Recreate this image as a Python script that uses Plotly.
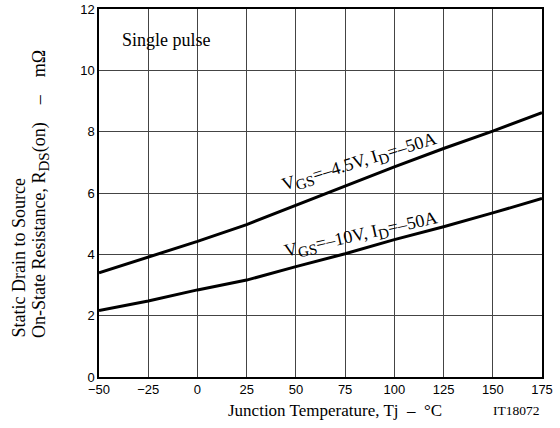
import plotly.graph_objects as go

temps = [-50, -25, 0, 25, 50, 75, 100, 125, 150, 175]
r_vgs45 = [3.4, 3.9, 4.42, 4.97, 5.6, 6.22, 6.85, 7.45, 8.02, 8.62]
r_vgs10 = [2.17, 2.48, 2.84, 3.16, 3.6, 4.02, 4.48, 4.9, 5.35, 5.82]
x_ticks = [-50, -25, 0, 25, 50, 75, 100, 125, 150, 175]
y_ticks = [0, 2, 4, 6, 8, 10, 12]

serif = "Liberation Serif, Times New Roman, serif"
sans = "Liberation Sans, Arial, sans-serif"


def sub(t, size=15):
    return "<sub><span style='font-size:%dpx'>%s</span></sub>" % (size, t)


sp = "&nbsp;" * 4

fig = go.Figure()
fig.add_trace(go.Scatter(x=temps, y=r_vgs45, mode="lines",
                         line=dict(color="black", width=3), showlegend=False,
                         hoverinfo="skip"))
fig.add_trace(go.Scatter(x=temps, y=r_vgs10, mode="lines",
                         line=dict(color="black", width=3), showlegend=False,
                         hoverinfo="skip"))

fig.update_layout(
    width=560, height=428,
    margin=dict(l=99, r=18, t=9, b=51, autoexpand=False),
    paper_bgcolor="white", plot_bgcolor="white",
    font=dict(color="black", family=serif),
    xaxis=dict(range=[-50, 175], tickvals=x_ticks, showgrid=True,
               gridcolor="#444", gridwidth=1.2, zeroline=False,
               showline=True, linecolor="black", linewidth=1.5, mirror=True,
               automargin=False,
               tickfont=dict(family=sans, size=13, color="black"), ticks=""),
    yaxis=dict(range=[0, 12], tickvals=y_ticks, showgrid=True,
               gridcolor="#444", gridwidth=1.2, zeroline=False,
               showline=True, linecolor="black", linewidth=1.5, mirror=True,
               automargin=False,
               tickfont=dict(family=sans, size=13, color="black"), ticks=""),
)

ann = [
    dict(x=-39.5, y=11.0, xref="x", yref="y", text="Single pulse",
         showarrow=False, xanchor="left", font=dict(family=serif, size=18)),
    dict(x=82.5, y=7.0, xref="x", yref="y",
         text="V" + sub("GS") + "=–4.5V, I" + sub("D") + "=–50A",
         showarrow=False, textangle=-17, font=dict(family=serif, size=18)),
    dict(x=83, y=4.62, xref="x", yref="y",
         text="V" + sub("GS") + "=–10V, I" + sub("D") + "=–50A",
         showarrow=False, textangle=-12.5, font=dict(family=serif, size=18)),
    dict(x=(335 - 99) / 443, y=-0.09, xref="paper", yref="paper",
         text="Junction Temperature, Tj  –  °C", showarrow=False,
         yanchor="middle", font=dict(family=serif, size=17)),
    dict(x=1.0, y=-0.09, xref="paper", yref="paper", text="IT18072",
         showarrow=False, xanchor="right", yanchor="middle",
         font=dict(family=serif, size=13.5)),
    dict(x=(18 - 99) / 443, y=(377 - 340) / 368, xref="paper", yref="paper",
         text="Static Drain to Source", showarrow=False, textangle=-90,
         yanchor="bottom", xanchor="center", font=dict(family=serif, size=18)),
    dict(x=(40 - 99) / 443, y=(377 - 340) / 368, xref="paper", yref="paper",
         text="On-State Resistance, R" + sub("DS") + "(on)" + sp + "–" + sp + "mΩ",
         showarrow=False, textangle=-90, yanchor="bottom", xanchor="center",
         font=dict(family=serif, size=18)),
]
fig.update_layout(annotations=ann)

fig.write_html("out.html", config={"displayModeBar": False},
               post_script="document.body.style.margin='0';")
